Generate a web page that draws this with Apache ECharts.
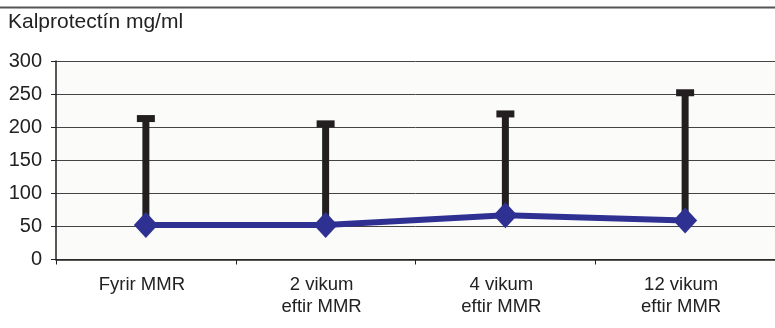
<!DOCTYPE html>
<html><head><meta charset="utf-8">
<script src="https://cdn.jsdelivr.net/npm/echarts@6/dist/echarts.min.js"></script>
<style>html,body{margin:0;padding:0;background:#fff}#c{width:775px;height:328px}</style>
</head><body><div id="c"></div>
<script>
const categories = ['Fyrir MMR', '2 vikum\neftir MMR', '4 vikum\neftir MMR', '12 vikum\neftir MMR'];
const meanValues = [52, 52, 67, 59];
const upperValues = [213, 205, 220, 252];
const yTicks = [0, 50, 100, 150, 200, 250, 300];
const yTitle = 'Kalprotectín mg/ml';

const FONT = '"Liberation Sans", Arial, sans-serif';
const chart = echarts.init(document.getElementById('c'));
chart.setOption({
  animation: false,
  backgroundColor: '#ffffff',
  graphic: [
    { type: 'line', shape: { x1: 0, y1: 7.5, x2: 775, y2: 7.5 }, style: { stroke: '#555', lineWidth: 2 } },
    { type: 'text', left: 8, top: 12, style: { text: yTitle, font: '21px ' + FONT, fill: '#222' } }
  ],
  grid: { left: 56, top: 61, right: -3, bottom: 68.5, show: true, backgroundColor: '#fbfbf9', borderWidth: 0 },
  xAxis: {
    type: 'category', data: categories, boundaryGap: true,
    axisLine: { lineStyle: { color: '#222', width: 1.5 } },
    axisTick: { show: true, length: 5, inside: false, lineStyle: { color: '#222' } },
    axisLabel: { color: '#222', fontFamily: FONT, fontSize: 18.5, lineHeight: 22, margin: 14, padding: [0, 8, 0, 0] }
  },
  yAxis: {
    type: 'value', min: yTicks[0], max: yTicks[yTicks.length - 1], interval: 50,
    axisLine: { show: true, lineStyle: { color: '#222', width: 1.5 } },
    axisTick: { show: true, length: 5, lineStyle: { color: '#222' } },
    axisLabel: { color: '#222', fontFamily: FONT, fontSize: 20, margin: 14 },
    splitLine: { show: true, lineStyle: { color: '#444', width: 1 } }
  },
  series: [
    {
      type: 'custom', z: 1,
      data: upperValues.map((u, i) => [i, meanValues[i], u]),
      renderItem: function (params, api) {
        const x = api.value(0);
        const lo = api.coord([x, api.value(1)]);
        const hi = api.coord([x, api.value(2)]);
        return {
          type: 'group', children: [
            { type: 'rect', shape: { x: lo[0] - 3.5, y: hi[1], width: 7, height: lo[1] - hi[1] }, style: { fill: '#231f20' } },
            { type: 'rect', shape: { x: lo[0] - 9, y: hi[1] - 3.5, width: 18, height: 7 }, style: { fill: '#231f20' } }
          ]
        };
      }
    },
    {
      type: 'line', z: 3, data: meanValues,
      symbol: 'diamond', symbolSize: [24, 26],
      lineStyle: { color: '#2e3192', width: 6 },
      itemStyle: { color: '#2e3192' }
    }
  ]
});
</script></body></html>
